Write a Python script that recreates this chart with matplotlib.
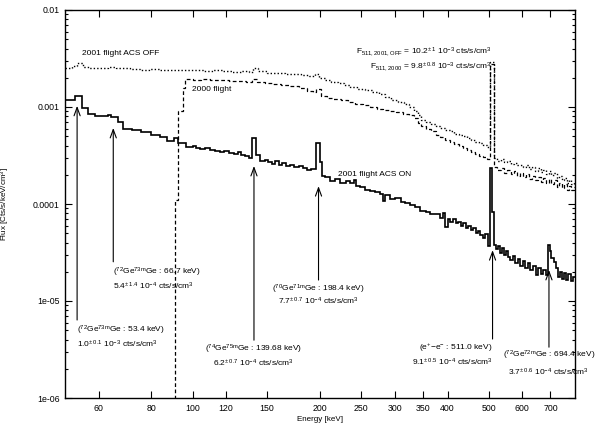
import numpy as np
import matplotlib
matplotlib.use('Agg')
import matplotlib.pyplot as plt
import matplotlib.transforms as mtransforms
from matplotlib.ticker import NullLocator, LogLocator, FixedLocator

plt.rcParams['font.family'] = ['Liberation Sans', 'DejaVu Sans']
plt.rcParams['mathtext.fontset'] = 'custom'
plt.rcParams['mathtext.rm'] = 'Liberation Sans'
plt.rcParams['mathtext.default'] = 'regular'

# upper end of every spectrum (keV)
e_max = 800

# 2001 flight, ACS ON (left bin edges in keV, flux)
on_e = [50.1, 52.9, 54.8, 56.8, 59.0, 63.0, 64.3, 66.7, 68.6, 72.0,
        75.4, 79.6, 84.0, 87.2, 90.5, 92.6, 96.7, 100, 102, 104.4,
        107, 110, 113, 116, 119, 122, 125, 128, 130, 133,
        136, 138.3, 141.3, 144.7, 148, 151, 154, 157, 160, 163,
        166, 170, 174, 178, 182, 186, 190, 196, 200, 202,
        206, 211, 217, 223, 230, 236, 240, 243, 249, 256,
        263, 270, 277, 281, 285, 293, 301, 310, 318, 327,
        336, 345, 355, 364, 374, 385, 390, 395, 400, 406,
        412, 418, 424, 430, 436, 442, 448, 454, 460, 466,
        472, 478, 484, 490, 499, 505, 509, 514, 520, 526,
        532, 538, 544, 550, 556, 563, 570, 578, 586, 594,
        602, 611, 620, 628, 637, 646, 655, 664, 673, 682,
        690, 697, 704, 712, 720, 728, 736, 745, 754, 763,
        772, 781, 790]
on_f = [1.17e-3, 1.31e-3, 9.7e-4, 8.5e-4, 8.1e-4, 8.3e-4, 7.8e-4, 7.05e-4, 5.9e-4, 5.8e-4,
        5.55e-4, 5.15e-4, 4.85e-4, 4.5e-4, 4.75e-4, 4.25e-4, 3.9e-4, 3.95e-4, 3.8e-4, 3.7e-4,
        3.8e-4, 3.6e-4, 3.55e-4, 3.45e-4, 3.5e-4, 3.35e-4, 3.3e-4, 3.4e-4, 3.2e-4, 3.15e-4,
        2.95e-4, 4.75e-4, 3.2e-4, 2.75e-4, 2.85e-4, 2.7e-4, 2.6e-4, 2.75e-4, 2.55e-4, 2.65e-4,
        2.45e-4, 2.5e-4, 2.4e-4, 2.45e-4, 2.35e-4, 2.25e-4, 2.28e-4, 4.3e-4, 2.7e-4, 1.95e-4,
        1.9e-4, 1.72e-4, 1.8e-4, 1.66e-4, 1.72e-4, 1.65e-4, 1.77e-4, 1.52e-4, 1.5e-4, 1.4e-4,
        1.36e-4, 1.32e-4, 1.27e-4, 1.08e-4, 1.25e-4, 1.12e-4, 1.14e-4, 1.05e-4, 1.03e-4, 9.8e-5,
        9.4e-5, 8.5e-5, 8.3e-5, 7.8e-5, 7.8e-5, 7.2e-5, 8.0e-5, 5.8e-5, 7.0e-5, 6.6e-5,
        7.0e-5, 6.3e-5, 6.6e-5, 6.0e-5, 6.3e-5, 5.6e-5, 5.9e-5, 5.4e-5, 5.6e-5, 5.0e-5,
        5.3e-5, 4.8e-5, 4.5e-5, 4.9e-5, 3.7e-5, 2.35e-4, 8.3e-5, 3.8e-5, 3.4e-5, 3.7e-5,
        3.1e-5, 3.5e-5, 3.0e-5, 3.3e-5, 2.85e-5, 2.65e-5, 2.9e-5, 2.45e-5, 2.7e-5, 2.3e-5,
        2.6e-5, 2.2e-5, 2.45e-5, 2.1e-5, 2.3e-5, 1.85e-5, 2.2e-5, 1.9e-5, 2.1e-5, 1.85e-5,
        3.8e-5, 3.3e-5, 2.8e-5, 2.5e-5, 2.2e-5, 1.75e-5, 2.0e-5, 1.7e-5, 1.95e-5, 1.65e-5,
        1.9e-5, 1.6e-5, 1.75e-5]

# 2001 flight, ACS OFF
off_e = [50.1, 52, 53.5, 55, 57, 60, 63, 66, 68, 71,
         75, 79, 84, 89, 95, 100, 106, 112, 118, 124,
         130, 136, 139, 143, 150, 157, 165, 172, 180, 188,
         195, 199, 206, 212, 220, 228, 236, 245, 255, 265,
         275, 285, 295, 305, 315, 325, 333, 340, 346, 355,
         365, 375, 385, 395, 405, 415, 425, 435, 445, 455,
         465, 475, 485, 495, 503, 514, 524, 534, 544, 554,
         564, 574, 584, 594, 604, 614, 624, 634, 644, 654,
         664, 674, 684, 694, 704, 714, 724, 734, 744, 754,
         764, 774, 784, 794]
off_f = [2.55e-3, 2.65e-3, 2.85e-3, 2.6e-3, 2.55e-3, 2.55e-3, 2.6e-3, 2.55e-3, 2.5e-3, 2.45e-3,
         2.42e-3, 2.45e-3, 2.4e-3, 2.42e-3, 2.38e-3, 2.4e-3, 2.35e-3, 2.38e-3, 2.35e-3, 2.32e-3,
         2.35e-3, 2.3e-3, 2.52e-3, 2.35e-3, 2.26e-3, 2.23e-3, 2.2e-3, 2.18e-3, 2.15e-3, 2.1e-3,
         2.2e-3, 1.98e-3, 1.9e-3, 1.83e-3, 1.76e-3, 1.68e-3, 1.6e-3, 1.55e-3, 1.5e-3, 1.43e-3,
         1.36e-3, 1.26e-3, 1.18e-3, 1.12e-3, 1.07e-3, 1.0e-3, 9.2e-4, 8.2e-4, 7.4e-4, 7.0e-4,
         6.7e-4, 6.4e-4, 6.1e-4, 5.8e-4, 5.6e-4, 5.3e-4, 5.15e-4, 5.0e-4, 4.75e-4, 4.6e-4,
         4.4e-4, 4.3e-4, 4.1e-4, 3.9e-4, 2.9e-3, 2.95e-4, 2.8e-4, 2.9e-4, 2.7e-4, 2.75e-4,
         2.6e-4, 2.65e-4, 2.5e-4, 2.55e-4, 2.4e-4, 2.5e-4, 2.3e-4, 2.4e-4, 2.2e-4, 2.35e-4,
         2.15e-4, 2.25e-4, 2.05e-4, 2.2e-4, 2.0e-4, 2.1e-4, 1.85e-4, 1.95e-4, 1.75e-4, 1.85e-4,
         1.65e-4, 1.75e-4, 1.6e-4, 1.7e-4]

# 2000 flight (no data below ~91 keV)
f00_e = [85, 91.1, 92.6, 95.1, 96.2, 100, 105, 110, 116, 122,
         128, 134, 138, 142, 148, 155, 162, 170, 178, 186,
         193, 196, 201, 208, 215, 224, 233, 242, 252, 262,
         272, 282, 292, 303, 314, 324, 333, 340, 346, 355,
         365, 375, 385, 395, 405, 415, 425, 435, 445, 455,
         465, 475, 485, 495, 503, 514, 524, 534, 544, 554,
         564, 574, 584, 594, 604, 614, 624, 634, 644, 654,
         664, 674, 684, 694, 704, 714, 724, 734, 744, 754,
         764, 774, 784, 794]
f00_f = [1e-7, 1.1e-4, 9.0e-4, 1.56e-3, 1.93e-3, 1.9e-3, 1.95e-3, 1.9e-3, 1.88e-3, 1.85e-3,
         1.84e-3, 1.8e-3, 1.93e-3, 1.82e-3, 1.76e-3, 1.72e-3, 1.68e-3, 1.63e-3, 1.56e-3, 1.47e-3,
         1.44e-3, 1.55e-3, 1.3e-3, 1.24e-3, 1.2e-3, 1.17e-3, 1.12e-3, 1.08e-3, 1.04e-3, 1.0e-3,
         9.6e-4, 9.3e-4, 9.0e-4, 8.8e-4, 8.5e-4, 8.2e-4, 7.7e-4, 6.9e-4, 6.3e-4, 6.0e-4,
         5.6e-4, 5.2e-4, 4.9e-4, 4.6e-4, 4.4e-4, 4.2e-4, 3.95e-4, 3.8e-4, 3.6e-4, 3.45e-4,
         3.3e-4, 3.1e-4, 3.05e-4, 2.9e-4, 2.75e-3, 2.4e-4, 2.25e-4, 2.35e-4, 2.1e-4, 2.25e-4,
         2.05e-4, 2.2e-4, 1.95e-4, 2.1e-4, 1.9e-4, 2.05e-4, 1.8e-4, 1.95e-4, 1.75e-4, 1.9e-4,
         1.7e-4, 1.85e-4, 1.65e-4, 1.8e-4, 1.6e-4, 1.75e-4, 1.5e-4, 1.65e-4, 1.45e-4, 1.6e-4,
         1.4e-4, 1.55e-4, 1.38e-4, 1.5e-4]

# lines marked with arrows
arrow_e = [53.4, 65.0, 139.68, 198.4, 511.0, 694.4]
line_names = [r'($^{72}$Ge$^{73m}$Ge : 53.4 keV)',
              r'($^{72}$Ge$^{73m}$Ge : 66.7 keV)',
              r'($^{74}$Ge$^{75m}$Ge : 139.68 keV)',
              r'($^{70}$Ge$^{71m}$Ge : 198.4 keV)',
              r'(e$^{+}$$-$e$^{-}$ : 511.0 keV)',
              r'($^{72}$Ge$^{72m}$Ge : 694.4 keV)']
line_fluxes = [r'1.0$^{\pm\,0.1}$ 10$^{-3}$ cts/s/cm$^{3}$',
               r'5.4$^{\pm\,1.4}$ 10$^{-4}$ cts/s/cm$^{3}$',
               r'6.2$^{\pm\,0.7}$ 10$^{-4}$ cts/s/cm$^{3}$',
               r'7.7$^{\pm\,0.7}$ 10$^{-4}$ cts/s/cm$^{3}$',
               r'9.1$^{\pm\,0.5}$ 10$^{-4}$ cts/s/cm$^{3}$',
               r'3.7$^{\pm\,0.6}$ 10$^{-4}$ cts/s/cm$^{3}$']

x_ticks = [60, 80, 100, 120, 150, 200, 250, 300, 350, 400, 500, 600, 700]
y_ticks = [1e-6, 1e-5, 1e-4, 1e-3, 1e-2]
y_ticklabels = ['1e-06', '1e-05', '0.0001', '0.001', '0.01']

fig = plt.figure(figsize=(5.96, 4.23), dpi=100)
ax = fig.add_axes([65 / 596, 25 / 423, 510 / 596, 388 / 423])
ax.set_xscale('log')
ax.set_yscale('log')

ax.stairs(off_f, off_e + [e_max], baseline=None, color='black', lw=1.0, linestyle=(0, (1, 1.5)))
ax.stairs(f00_f, f00_e + [e_max], baseline=None, color='black', lw=0.9, linestyle=(0, (3, 2)))
ax.stairs(on_f, on_e + [e_max], baseline=None, color='black', lw=1.2)

ax.set_xlim(50, e_max)
ax.set_ylim(1e-6, 1e-2)

ax.xaxis.set_major_locator(FixedLocator(x_ticks))
ax.set_xticklabels([str(t) for t in x_ticks])
ax.xaxis.set_minor_locator(NullLocator())
ax.yaxis.set_major_locator(FixedLocator(y_ticks))
ax.set_yticklabels(y_ticklabels)
ax.yaxis.set_minor_locator(LogLocator(base=10, subs=np.arange(2, 10)))
ax.tick_params(which='both', direction='in', top=True, right=True, labelsize=6.3, width=0.8)
ax.tick_params(which='major', length=5)
ax.tick_params(which='minor', length=2.5)
ax.tick_params(axis='x', pad=4)
ax.tick_params(axis='y', pad=4)
for s in ax.spines.values():
    s.set_linewidth(1.0)

ax.set_xlabel('Energy [keV]', fontsize=5.8)
ax.set_ylabel(r'Flux [Cts/s/keV/cm$^{3}$]', fontsize=5.8)
ax.xaxis.set_label_coords(0.5, -0.046)
ax.yaxis.set_label_coords(-0.104, 0.5)

# x in keV, y in axes fraction
trans = mtransforms.blended_transform_factory(ax.transData, ax.transAxes)

tips = [0.753, 0.696, 0.598, 0.546, 0.381, 0.330]
tails = [0.201, 0.351, 0.149, 0.304, 0.152, 0.131]
name_y = [0.175, 0.325, 0.126, 0.281, 0.129, 0.111]
flux_y = [0.139, 0.289, 0.090, 0.250, 0.093, 0.067]
aligns = ['left', 'left', 'center', 'center', 'right', 'center']

for e, tip, tail, n, fl, ny, fy, ha in zip(arrow_e, tips, tails, line_names, line_fluxes,
                                            name_y, flux_y, aligns):
    ax.annotate('', xy=(e, tip), xytext=(e, tail), xycoords=trans, textcoords=trans,
                arrowprops=dict(arrowstyle='->,head_length=0.6,head_width=0.22',
                                lw=0.8, color='black', shrinkA=0, shrinkB=0,
                                mutation_scale=10))
    ax.text(e, ny, n, transform=trans, ha=ha, va='center', fontsize=6, clip_on=False)
    ax.text(e, fy, fl, transform=trans, ha=ha, va='center', fontsize=6, clip_on=False)

ax.text(54.9, 0.888, '2001 flight ACS OFF', transform=trans, ha='left', va='center', fontsize=6)
ax.text(100, 0.794, '2000 flight', transform=trans, ha='left', va='center', fontsize=6)
ax.text(220, 0.575, '2001 flight ACS ON', transform=trans, ha='left', va='center', fontsize=6)
ax.text(509, 0.892, r'F$_{511,2001,OFF}$ = 10.2$^{\pm\,1}$ 10$^{-3}$ cts/s/cm$^{3}$',
        transform=trans, ha='right', va='center', fontsize=6)
ax.text(509, 0.851, r'F$_{511,2000}$ = 9.8$^{\pm\,0.8}$ 10$^{-3}$ cts/s/cm$^{3}$',
        transform=trans, ha='right', va='center', fontsize=6)

fig.savefig('out.png', dpi=100)
